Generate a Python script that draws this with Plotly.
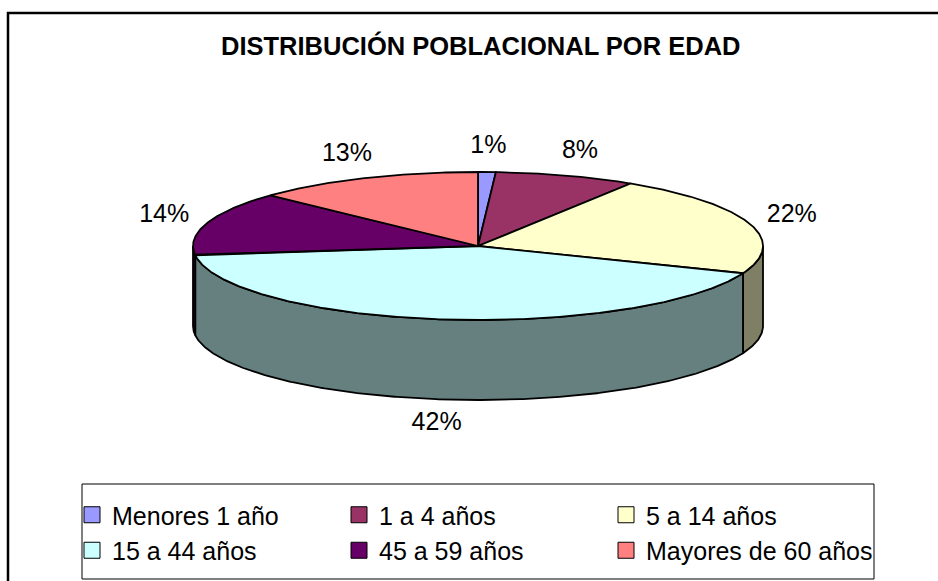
import numpy as np
import plotly.graph_objects as go

# ---- data ----
categories = ["Menores 1 año", "1 a 4 años", "5 a 14 años",
              "15 a 44 años", "45 a 59 años", "Mayores de 60 años"]
values = [1, 8, 22, 42, 14, 13]
pct_labels = ["1%", "8%", "22%", "42%", "14%", "13%"]
colors = ["#9999FF", "#993366", "#FFFFCC", "#CCFFFF", "#660066", "#FF8080"]
title_text = "DISTRIBUCIÓN POBLACIONAL POR EDAD"

# ---- geometry (pixel space) ----
W, H = 938, 581
CX, CY, RX, RY, DEPTH = 478, 246, 285, 74, 80
FONT = "Liberation Sans, Arial, sans-serif"


def shade(hexc, f=0.5):
    h = hexc.lstrip("#")
    r, g, b = (int(h[i:i + 2], 16) for i in (0, 2, 4))
    return "rgb(%d,%d,%d)" % (r * f, g * f, b * f)


def ex(t):
    return CX + RX * np.cos(np.radians(t))


def ey(t):
    return CY - RY * np.sin(np.radians(t))


fig = go.Figure()
total = float(sum(values))
cum = np.concatenate([[0], np.cumsum(values)])
a_start = 90 - 360 * cum[:-1] / total
a_end = 90 - 360 * cum[1:] / total

# sides (front half only)
for k in range(len(values)):
    lo, hi = max(a_end[k], -180), min(a_start[k], 0)
    if lo < hi:
        t = np.linspace(hi, lo, max(int((hi - lo) * 2), 4))
        xs = np.concatenate([ex(t), ex(t[::-1])])
        ys = np.concatenate([ey(t), ey(t[::-1]) + DEPTH])
        xs = np.append(xs, xs[0])
        ys = np.append(ys, ys[0])
        fig.add_trace(go.Scatter(x=xs, y=ys, mode="lines", fill="toself",
                                 fillcolor=shade(colors[k]),
                                 line=dict(color="black", width=1.8),
                                 hoverinfo="skip", showlegend=False))

# top faces
for k in range(len(values)):
    t = np.linspace(a_start[k], a_end[k], max(int(abs(a_start[k] - a_end[k]) * 2), 4))
    xs = np.concatenate([[CX], ex(t), [CX]])
    ys = np.concatenate([[CY], ey(t), [CY]])
    fig.add_trace(go.Scatter(x=xs, y=ys, mode="lines", fill="toself",
                             fillcolor=colors[k],
                             line=dict(color="black", width=1.8),
                             name=categories[k], hoverinfo="skip",
                             showlegend=False))

# percentage labels
mid = (a_start + a_end) / 2
lx = CX + (RX + 45) * np.cos(np.radians(mid))
ly = CY - (RY + 25) * np.sin(np.radians(mid)) + np.where(np.sin(np.radians(mid)) < 0, DEPTH, 0)
fig.add_trace(go.Scatter(x=lx, y=ly, mode="text", text=pct_labels,
                         textfont=dict(family=FONT, size=25, color="black"),
                         hoverinfo="skip", showlegend=False))

# legend entries
for k in range(len(values)):
    fig.add_trace(go.Scatter(x=[None], y=[None], mode="markers", name=categories[k],
                             marker=dict(symbol="square", size=16, color=colors[k],
                                         line=dict(color="black", width=1))))

fig.update_layout(
    width=W, height=H,
    margin=dict(l=0, r=0, t=0, b=0),
    paper_bgcolor="white", plot_bgcolor="white",
    xaxis=dict(range=[0, W], visible=False, fixedrange=True),
    yaxis=dict(range=[H, 0], visible=False, fixedrange=True),
    showlegend=True,
    legend=dict(orientation="h", x=72 / W, xanchor="left",
                y=1 - 492 / H, yanchor="top",
                entrywidth=222, entrywidthmode="pixels",
                font=dict(family=FONT, size=25, color="black"),
                bgcolor="rgba(0,0,0,0)", borderwidth=0, traceorder="normal"),
    annotations=[dict(text="<b>%s</b>" % title_text, x=480, y=45, xref="x", yref="y",
                      showarrow=False, font=dict(family=FONT, size=25.5, color="black"))],
    shapes=[
        dict(type="rect", xref="paper", yref="paper", x0=8 / W, x1=1.05,
             y0=-0.05, y1=1 - 13 / H,
             line=dict(color="black", width=2.5), fillcolor="rgba(0,0,0,0)"),
        dict(type="rect", xref="x", yref="y", x0=82, x1=874, y0=484, y1=579,
             line=dict(color="black", width=1), fillcolor="rgba(0,0,0,0)"),
    ],
)

fig.write_html("out.html", config={"displayModeBar": False},
               post_script="document.body.style.margin='0';document.body.style.overflow='hidden';")
